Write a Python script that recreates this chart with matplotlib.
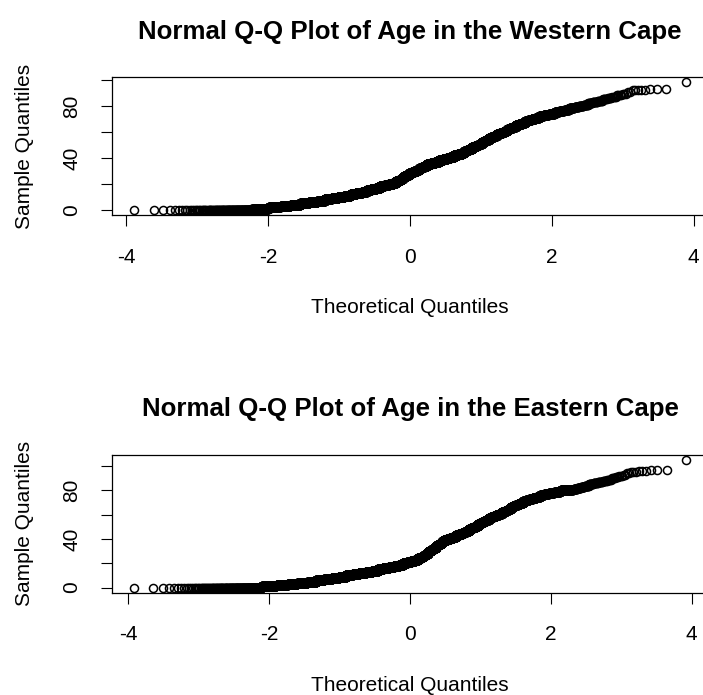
import matplotlib
matplotlib.use("Agg")
import matplotlib.pyplot as plt
import numpy as np
from statistics import NormalDist

# Respondents by single year of age (index = age in years)
western_ages = list(range(0, 99))
western_counts = [
    126, 105, 110, 118, 150, 165, 180, 190, 200, 210,      # 0-9
    216, 236, 236, 235, 223, 223, 223, 223, 223, 223,      # 10-19
    223, 180, 150, 110, 100, 101, 141, 141, 141, 141,      # 20-29
    141, 141, 141, 141, 141, 212, 212, 212, 212, 176,      # 30-39
    176, 176, 176, 176, 101, 101, 101, 101, 101, 101,      # 40-49
    75, 75, 75, 75, 75, 75, 75, 75, 75, 75,                # 50-59
    56, 56, 56, 56, 56, 56, 56, 45, 45, 45,                # 60-69
    45, 45, 45, 45, 45, 30, 28, 25, 22, 16,                # 70-79
    14, 12, 10, 9, 8, 6, 5, 4, 4, 3,                       # 80-89
    0, 2, 5, 3, 0, 0, 0, 0, 1,                             # 90-98
]

eastern_ages = list(range(0, 106))
eastern_counts = [
    197, 130, 140, 150, 200, 215, 230, 245, 260, 280,      # 0-9
    300, 315, 330, 330, 330, 330, 330, 330, 300, 280,      # 10-19
    260, 240, 225, 215, 204, 99, 99, 99, 99, 99,           # 20-29
    99, 99, 99, 99, 99, 99, 99, 99, 99, 159,               # 30-39
    159, 159, 159, 159, 159, 103, 103, 103, 103, 103,      # 40-49
    103, 80, 80, 80, 80, 80, 80, 80, 80, 80,               # 50-59
    80, 80, 80, 50, 50, 50, 50, 50, 50, 50,                # 60-69
    50, 50, 50, 50, 50, 45, 45, 45, 45, 45,                # 70-79
    70, 15, 13, 12, 12, 10, 9, 8, 6, 5,                    # 80-89
    4, 3, 3, 2, 2, 3, 3, 3, 0, 0,                          # 90-99
    0, 0, 0, 0, 0, 1,                                      # 100-105
]

panels = [
    ("Normal Q-Q Plot of Age in the Western Cape", western_ages, western_counts),
    ("Normal Q-Q Plot of Age in the Eastern Cape", eastern_ages, eastern_counts),
]

plt.rcParams["font.family"] = ["Liberation Sans", "DejaVu Sans"]
plt.rcParams["axes.unicode_minus"] = False

W, H = 703, 695
fig = plt.figure(figsize=(W / 100, H / 100), dpi=100)
fig.patch.set_facecolor("white")

# plot regions in pixels: (left, top, right, bottom)
regions = [(112, 77.3, 708, 215.0), (112, 455.0, 708, 592.7)]

norm = NormalDist()


def qq_points(ages, counts):
    sample = np.sort(np.repeat(np.asarray(ages, float), np.asarray(counts)))
    n = sample.size
    probs = (np.arange(1, n + 1) - 0.5) / n
    theo = np.array([norm.inv_cdf(p) for p in probs])
    return theo, sample


def padded(lo, hi, frac=0.04):
    d = (hi - lo) * frac
    return lo - d, hi + d


for (title, ages, counts), (l, t, r, b) in zip(panels, regions):
    ax = fig.add_axes([l / W, 1 - b / H, (r - l) / W, (b - t) / H])
    theo, sample = qq_points(ages, counts)
    ax.plot(theo, sample, linestyle="none", marker="o", markersize=5.8,
            markerfacecolor="none", markeredgecolor="black",
            markeredgewidth=1.1)
    ax.set_xlim(*padded(theo.min(), theo.max()))
    ax.set_ylim(*padded(sample.min(), sample.max()))

    ax.set_xticks([-4, -2, 0, 2, 4])
    ax.set_xticklabels(["-4", "-2", "0", "2", "4"])
    ax.set_yticks([0, 20, 40, 60, 80, 100])
    ax.set_yticklabels(["0", "", "40", "", "80", ""])
    ax.tick_params(axis="x", length=8, width=0.8, pad=15.5, labelsize=15,
                   direction="out", color="black")
    ax.tick_params(axis="y", length=8, width=0.8, pad=14.0, labelsize=15,
                   direction="out", color="black", labelrotation=90)
    for lab in ax.get_yticklabels():
        lab.set_verticalalignment("center")
    for s in ax.spines.values():
        s.set_linewidth(0.9)
        s.set_color("black")

    cx = (l + r) / 2
    fig.text(cx / W, 1 - (t - 38.8) / H, title, ha="center", va="baseline",
             fontsize=18.6, fontweight="bold")
    fig.text(cx / W, 1 - (b + 98) / H, "Theoretical Quantiles",
             ha="center", va="baseline", fontsize=15)
    fig.text(30 / W, 1 - ((t + b) / 2) / H, "Sample Quantiles",
             ha="center", va="baseline", rotation=90,
             rotation_mode="anchor", fontsize=15)

fig.savefig("out.png", dpi=100, facecolor="white")
